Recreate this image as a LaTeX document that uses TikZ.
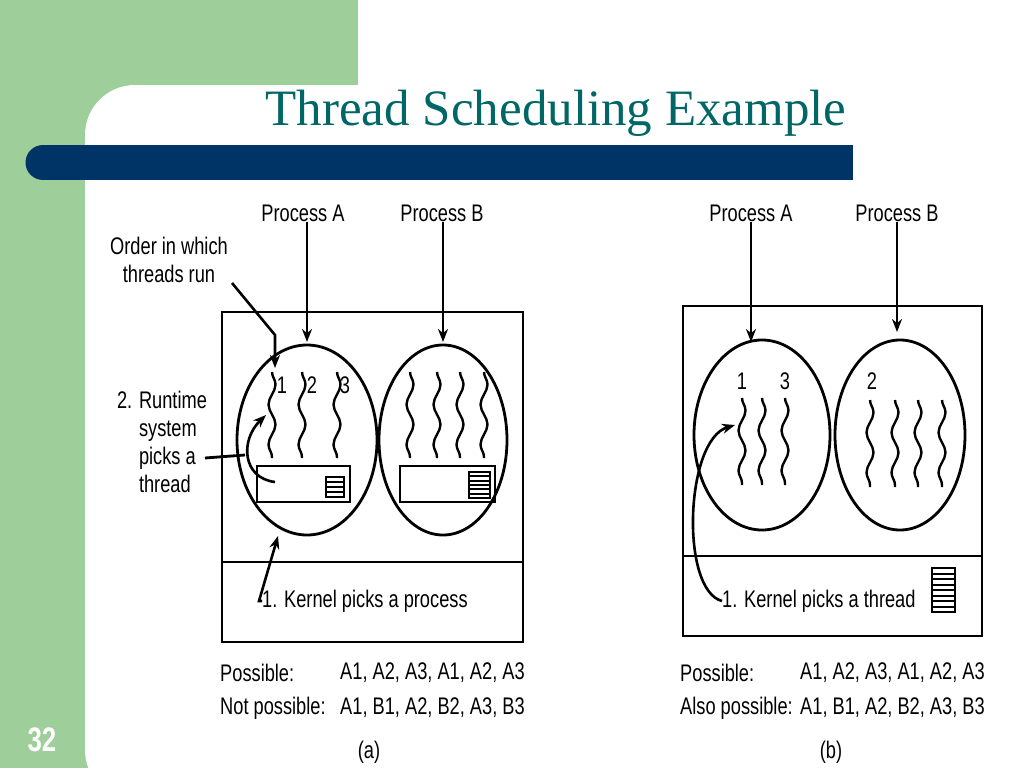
\documentclass[tikz,border=0pt]{standalone}
\usepackage{fontspec}
\setmainfont{Liberation Sans}[FakeStretch=0.76]
\newfontfamily\titlefont{Liberation Serif}
\usetikzlibrary{decorations.pathmorphing,arrows.meta}
\definecolor{sgreen}{HTML}{9ECE9A}
\definecolor{sblue}{HTML}{003366}
\definecolor{steal}{HTML}{006666}
\begin{document}
\begin{tikzpicture}[x=1pt,y=-1pt,
  lbl/.style={inner sep=0pt,font=\fontsize{24}{28}\selectfont},
  thr/.style={line width=2.4pt,decorate,decoration={snake,amplitude=3.5pt,segment length=40pt}},
  ln/.style={line width=2.8pt},
  arr/.style={line width=2.6pt,-{Stealth[length=13pt,width=10pt]}}]
\useasboundingbox (0,0) rectangle (1024,768);
\fill[sgreen] (0,0) rectangle (358,768);
\fill[white,rounded corners=50pt] (85,800) rectangle (1060,85);
\fill[white] (200,300) rectangle (1024,768);
\fill[sblue] (43,145) rectangle (853,180);
\fill[sblue] (43,162.5) circle[radius=17.5];
\node[font=\titlefont\fontsize{51}{56}\selectfont,text=steal] (title) at (556,113) {Thread Scheduling Example};
\node[font=\bfseries\fontsize{34}{38}\selectfont,text=white] (num) at (42,740) {32};
% ===== (a)
\draw[ln] (222,312) rectangle (523,642);
\draw[ln] (222,562) -- (523,562);
\draw[ln] (307,440) ellipse[x radius=70,y radius=95];
\draw[ln] (443,440) ellipse[x radius=64,y radius=95];
\foreach \x in {272,302,337} \draw[thr] (\x,372) -- (\x,458);
\foreach \x in {410,437,460,484} \draw[thr] (\x,372) -- (\x,458);
\node[lbl] (a1) at (282,385) {1};
\node[lbl] (a2) at (312,385) {2};
\node[lbl] (a3) at (345,385) {3};
\draw[ln] (257,466) rectangle (350,502);
\draw[line width=2pt] (326,477) rectangle (344,497);
\foreach \y in {482,487,492} \draw[line width=2pt] (326,\y) -- (344,\y);
\draw[ln] (400,466) rectangle (495,502);
\draw[line width=2pt] (469,472) rectangle (490,498);
\foreach \y in {476.3,480.6,485,489.3,493.6} \draw[line width=2pt] (469,\y) -- (490,\y);
\node[lbl] (pa) at (303,213) {Process A};
\node[lbl] (pb) at (442,213) {Process B};
\draw[arr] (pa.south -| 307,0) -- (307,342);
\draw[arr] (pb.south -| 443,0) -- (443,342);
\node[lbl,align=center] (order) at (169,260) {Order in which\\threads run};
\draw[arr] (232,283) -- (275,335) -- (275,368);
\node[lbl,align=left] (rt) at (162,442) {2. Runtime\\\phantom{2. }system\\\phantom{2. }picks a\\\phantom{2. }thread};
\draw[ln] (205,458) -- (245,455);
\draw[arr] (275,482) .. controls (242,478) and (240,440) .. (266,415);
\node[lbl,anchor=west] (kp) at (262,601) {1. Kernel picks a process};
\draw[arr] (kp.west) -- (259,601) -- (278,536);
\node[lbl,anchor=west] (p1) at (220,673) {Possible:};
\node[lbl,anchor=west] (p2) at (340,673) {A1, A2, A3, A1, A2, A3};
\node[lbl,anchor=west] (n1) at (220,708) {Not possible:};
\node[lbl,anchor=west] (n2) at (340,708) {A1, B1, A2, B2, A3, B3};
\node[lbl] (ca) at (369,752) {(a)};
% ===== (b)
\draw[ln] (683,306) rectangle (982,636);
\draw[ln] (683,556) -- (982,556);
\draw[ln] (762,435) ellipse[x radius=68,y radius=95];
\draw[ln] (900,435) ellipse[x radius=65,y radius=95];
\foreach \x in {742,762,785} \draw[thr] (\x,398) -- (\x,485);
\foreach \x in {870,895,918,942} \draw[thr] (\x,400) -- (\x,487);
\node[lbl] (b1) at (742,381) {1};
\node[lbl] (b3) at (785,381) {3};
\node[lbl] (b2) at (872,381) {2};
\node[lbl] (pa2) at (751,213) {Process A};
\node[lbl] (pb2) at (897,213) {Process B};
\draw[arr] (pa2.south -| 751,0) -- (751,342);
\draw[arr] (pb2.south -| 897,0) -- (897,332);
\node[lbl,anchor=west] (kt) at (722,601) {1. Kernel picks a thread};
\draw[arr] (kt.west) .. controls (680,590) and (685,440) .. (735,425);
\draw[line width=2pt] (932,568) rectangle (955,612);
\foreach \y in {573.5,579,584.5,590,595.5,601,606.5} \draw[line width=2pt] (932,\y) -- (955,\y);
\node[lbl,anchor=west] (q1) at (680,673) {Possible:};
\node[lbl,anchor=west] (q2) at (800,673) {A1, A2, A3, A1, A2, A3};
\node[lbl,anchor=west] (m1) at (680,708) {Also possible:};
\node[lbl,anchor=west] (m2) at (800,708) {A1, B1, A2, B2, A3, B3};
\node[lbl] (cb) at (831,752) {(b)};
\end{tikzpicture}
\end{document}
